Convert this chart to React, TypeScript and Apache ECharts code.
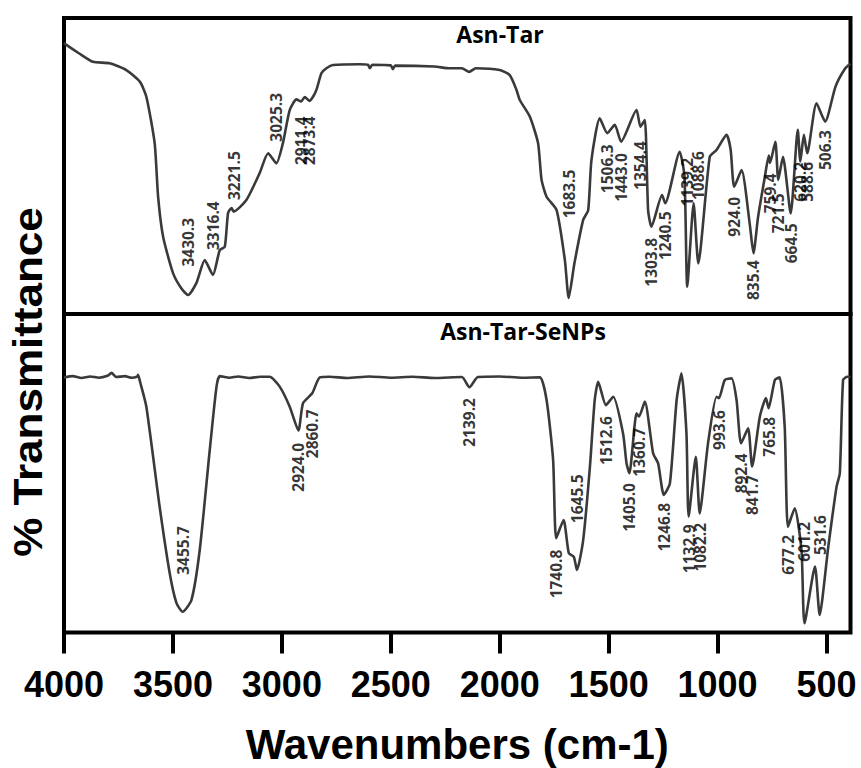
import React, { useEffect, useRef } from "react";
import * as echarts from "echarts";

// Wavenumber (cm-1), % transmittance (relative, panel scale 0-100)
const asnTarSpectrum: [number, number][] = [
  [4000, 91.6], [3989, 90.9], [3930, 88.0], [3867, 85.2], [3790, 84.7], [3714, 82.4],
  [3652, 78.5], [3622, 73.4], [3584, 57.8], [3568, 39.6], [3545, 26.1], [3500, 13.9],
  [3460, 8.5], [3430.3, 6.4], [3392, 10.5], [3354, 18.2], [3316.4, 13.2], [3285, 21.6],
  [3262, 22.7], [3247, 34.1], [3231, 35.8], [3221.5, 34.6], [3163, 38.5], [3102, 47.6],
  [3063, 54.3], [3025.3, 50.9], [2995, 57.8], [2964, 68.9], [2933, 72.5], [2911.4, 71.8],
  [2895, 73.3], [2873.4, 72.0], [2857, 73.4], [2841, 75.8], [2818, 81.4], [2794, 83.1],
  [2765, 84.1], [2642, 84.4], [2605, 84.2], [2596, 83.0], [2585, 84.2], [2500, 84.0],
  [2491, 82.7], [2480, 83.9], [2300, 83.6], [2229, 83.0], [2174, 83.0], [2140, 81.8],
  [2110, 83.0], [2000, 82.4], [1954, 80.7], [1923, 75.7], [1908, 72.3], [1862, 66.7],
  [1824, 57.7], [1808, 45.3], [1785, 39.6], [1739, 35.1], [1701, 18.2], [1683.5, 5.4],
  [1657, 17.2], [1617, 31.8], [1594, 35.1], [1579, 52.0], [1541, 66.1], [1506.3, 61.1],
  [1472, 63.9], [1443.0, 58.2], [1372, 68.9], [1354.4, 63.3], [1334, 65.5], [1319, 35.1],
  [1303.8, 29.5], [1255, 40.2], [1240.5, 37.4], [1174, 54.8], [1152, 46.4], [1139.2, 9.2],
  [1110, 37.4], [1088.6, 17.1], [1036, 53.1], [1005, 55.4], [959, 60.5], [940, 55.4],
  [924.0, 43.0], [890, 48.6], [852, 30.1], [835.4, 20.5], [814, 32.9], [783, 46.4],
  [765, 53.5], [759.4, 51.0], [735, 58.2], [721.5, 45.3], [700, 53.1], [664.5, 34.0],
  [632, 62.2], [620.2, 51.5], [604, 60.5], [588.6, 54.3], [546, 71.2], [506.3, 65.0],
  [459, 76.8], [414, 83.0], [390, 84.5],
];

const asnTarSeNPsSpectrum: [number, number][] = [
  [4000, 80.1], [3960, 80.5], [3920, 79.9], [3880, 80.4], [3840, 80.0], [3800, 80.6],
  [3782, 81.5], [3760, 80.2], [3720, 80.5], [3690, 80.0], [3665, 80.3], [3660, 80.9],
  [3650, 78.5], [3622, 70.9], [3561, 39.5], [3515, 18.7], [3484, 9.3], [3455.7, 6.5],
  [3415, 10.2], [3377, 25.9], [3331, 57.3], [3300, 77.2], [3285, 80.5], [3240, 80.0],
  [3200, 80.4], [3150, 79.9], [3100, 80.3], [3056, 80.3], [3010, 77.2], [2964, 70.9],
  [2924.0, 63.4], [2903, 72.0], [2860.7, 75.1], [2826, 80.1], [2780, 80.3], [2700, 79.9],
  [2600, 80.4], [2500, 80.0], [2400, 80.3], [2300, 79.9], [2174, 80.2], [2139.2, 77.0],
  [2100, 80.2], [2000, 80.4], [1900, 80.0], [1816, 80.1], [1785, 73.0], [1755, 54.2],
  [1740.8, 29.6], [1707, 35.3], [1683, 24.9], [1660, 23.8], [1645.5, 19.6], [1617, 29.0],
  [1586, 52.1], [1564, 73.0], [1548, 78.7], [1512.6, 71.4], [1479, 74.0], [1434, 62.5],
  [1418, 53.1], [1405.0, 50.0], [1372, 68.8], [1360.7, 67.8], [1334, 72.5], [1296, 56.3],
  [1273, 53.1], [1246.8, 43.2], [1219, 46.8], [1188, 73.0], [1166, 81.4], [1143, 62.6],
  [1132.9, 36.4], [1100, 55.2], [1082.2, 37.4], [1044, 59.4], [1005, 74.0], [993.6, 73.6],
  [967, 79.3], [936, 79.8], [913, 73.0], [892.4, 59.4], [860, 64.1], [841.7, 52.1],
  [806, 67.8], [778, 73.6], [765.8, 70.4], [737, 79.3], [715, 80.1], [692, 64.6],
  [677.2, 33.2], [646, 39.0], [615, 25.9], [601.2, 2.9], [553, 20.7], [531.6, 5.5],
  [492, 26.9], [454, 45.8], [439, 50.0], [424, 79.3], [405, 80.3], [390, 80.2],
];

// Peak annotations: [wavenumber, transmittance at which the label text starts]
const asnTarPeakLabels: [number, number][] = [
  [3430.3, 16.0], [3316.4, 21.6], [3221.5, 38.5], [3025.3, 58.2], [2911.4, 50.3], [2873.4, 50.3],
  [1683.5, 32.3], [1506.3, 40.8], [1443.0, 37.9], [1354.4, 41.9], [1303.8, 9.2], [1240.5, 18.2],
  [1139.2, 36.3], [1088.6, 38.5], [924.0, 26.1], [835.4, 4.7], [759.4, 34.0], [721.5, 27.3],
  [664.5, 17.1], [620.2, 37.9], [588.6, 37.9], [506.3, 48.6],
];

const asnTarSeNPsPeakLabels: [number, number][] = [
  [3455.7, 18.1], [2924.0, 44.2], [2860.7, 54.7], [2139.2, 58.3], [1740.8, 10.7], [1645.5, 34.3],
  [1512.6, 52.6], [1405.0, 31.6], [1360.7, 48.9], [1246.8, 25.4], [1132.9, 18.6], [1082.2, 19.1],
  [993.6, 57.3], [892.4, 43.7], [841.7, 36.9], [765.8, 55.2], [677.2, 18.1], [601.2, 22.2],
  [531.6, 24.3],
];

const xTickValues = [4000, 3500, 3000, 2500, 2000, 1500, 1000, 500];
const panelTitles = ["Asn-Tar", "Asn-Tar-SeNPs"];

const LINE_COLOR = "#3a3a3a";

function labelSeries(data: [number, number][], idx: number) {
  return {
    type: "scatter",
    xAxisIndex: idx,
    yAxisIndex: idx,
    symbolSize: 0.1,
    silent: true,
    itemStyle: { color: "transparent" },
    data: data.map((d) => ({ value: d })),
    label: {
      show: true,
      position: [0, 0],
      rotate: 90,
      align: "left",
      verticalAlign: "middle",
      fontFamily: "Open Sans",
      fontSize: 15.5,
      fontWeight: "bold",
      color: "#000",
      formatter: (p: any) => p.value[0].toFixed(1),
    },
    z: 5,
  };
}

export default function App() {
  const ref = useRef<HTMLDivElement>(null);
  useEffect(() => {
    if (!ref.current) return;
    const chart = echarts.init(ref.current, undefined, { renderer: "svg" });
    const gridLeft = 64;
    const gridWidth = 786.5;
    const option: any = {
      animation: false,
      backgroundColor: "#fff",
      grid: [
        { left: gridLeft, top: 18, width: gridWidth, height: 296, show: true, borderColor: "#000", borderWidth: 4, backgroundColor: "transparent" },
        { left: gridLeft, top: 314, width: gridWidth, height: 318.5, show: true, borderColor: "#000", borderWidth: 4, backgroundColor: "transparent" },
      ],
      xAxis: [
        { type: "value", gridIndex: 0, inverse: true, min: 390, max: 4000, show: false },
        {
          type: "value",
          gridIndex: 1,
          inverse: true,
          min: 390,
          max: 4000,
          axisLine: { show: false },
          splitLine: { show: false },
          axisTick: { show: true, length: 21, customValues: xTickValues, lineStyle: { color: "#000", width: 4 } },
          axisLabel: {
            customValues: xTickValues,
            margin: 34,
            fontFamily: "Liberation Sans",
            fontWeight: "bold",
            fontSize: 36,
            color: "#000",
            formatter: (v: number) => String(v),
          },
          name: "Wavenumbers (cm-1)",
          nameLocation: "middle",
          nameGap: 91,
          nameTextStyle: { fontFamily: "Liberation Sans", fontWeight: "bold", fontSize: 42, lineHeight: 42, color: "#000" },
        },
      ],
      yAxis: [
        { type: "value", gridIndex: 0, min: 0, max: 100, show: false },
        { type: "value", gridIndex: 1, min: 0, max: 100, show: false },
      ],
      graphic: [
        {
          type: "text",
          x: 28,
          y: 382,
          rotation: Math.PI / 2,
          scaleX: 1.1,
          style: {
            text: "% Transmittance",
            font: "bold 40px 'Liberation Sans'",
            fill: "#000",
            align: "center",
            verticalAlign: "middle",
          },
        },
        {
          type: "text",
          x: 500,
          y: 34,
          style: { text: panelTitles[0], font: "bold 23px 'Open Sans'", fill: "#000", align: "center", verticalAlign: "middle" },
        },
        {
          type: "text",
          x: 523,
          y: 331,
          style: { text: panelTitles[1], font: "bold 23px 'Open Sans'", fill: "#000", align: "center", verticalAlign: "middle" },
        },
      ],
      series: [
        {
          type: "line",
          xAxisIndex: 0,
          yAxisIndex: 0,
          data: asnTarSpectrum,
          showSymbol: false,
          smooth: 0.2,
          lineStyle: { color: LINE_COLOR, width: 2.6 },
          silent: true,
        },
        {
          type: "line",
          xAxisIndex: 1,
          yAxisIndex: 1,
          data: asnTarSeNPsSpectrum,
          showSymbol: false,
          smooth: 0.2,
          lineStyle: { color: LINE_COLOR, width: 2.6 },
          silent: true,
        },
        labelSeries(asnTarPeakLabels, 0),
        labelSeries(asnTarSeNPsPeakLabels, 1),
      ],
    };
    chart.setOption(option);
    return () => chart.dispose();
  }, []);
  return <div ref={ref} style={{ width: 861, height: 768, position: "absolute", left: 0, top: 0 }} />;
}
